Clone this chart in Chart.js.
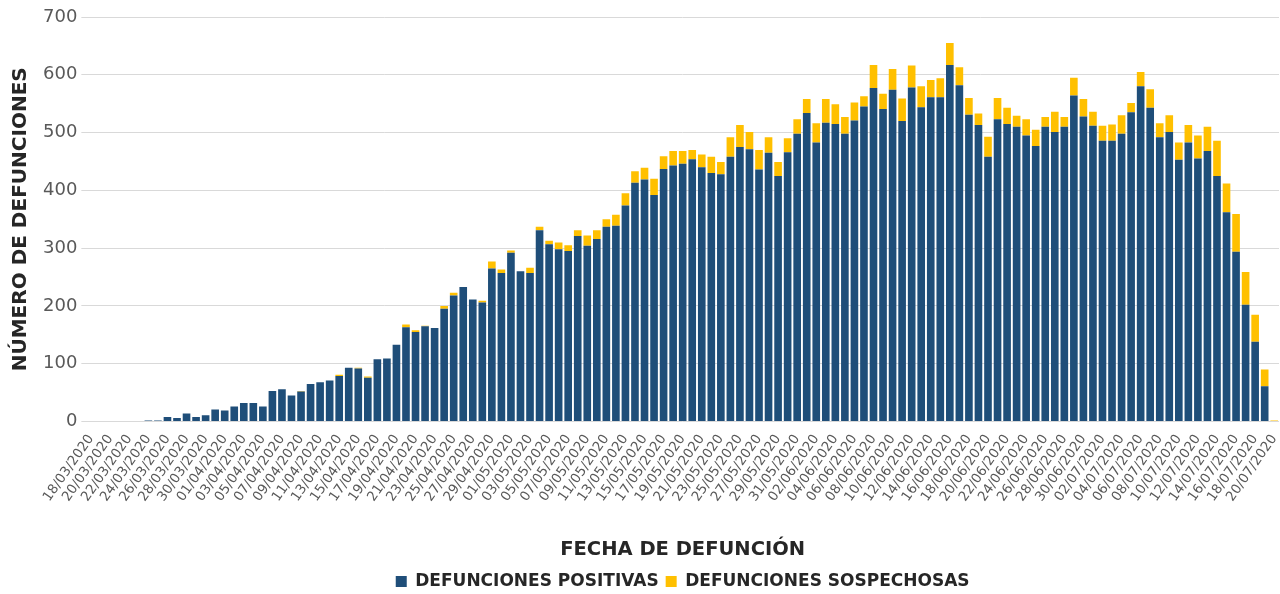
<!DOCTYPE html>
<html>
<head>
<meta charset="utf-8">
<script src="https://cdn.jsdelivr.net/npm/chart.js@4.4.1/dist/chart.umd.min.js"></script>
<style>
html,body{margin:0;padding:0;background:#fff;}
#wrap{width:1280px;height:594px;position:relative;overflow:hidden;}
</style>
</head>
<body>
<div id="wrap"><canvas id="c" width="1280" height="594"></canvas></div>
<script>
const fechas = [
"18/03/2020","19/03/2020","20/03/2020","21/03/2020","22/03/2020","23/03/2020","24/03/2020","25/03/2020","26/03/2020","27/03/2020","28/03/2020","29/03/2020","30/03/2020","31/03/2020",
"01/04/2020","02/04/2020","03/04/2020","04/04/2020","05/04/2020","06/04/2020","07/04/2020","08/04/2020","09/04/2020","10/04/2020","11/04/2020","12/04/2020","13/04/2020","14/04/2020","15/04/2020","16/04/2020","17/04/2020","18/04/2020","19/04/2020","20/04/2020","21/04/2020","22/04/2020","23/04/2020","24/04/2020","25/04/2020","26/04/2020","27/04/2020","28/04/2020","29/04/2020","30/04/2020",
"01/05/2020","02/05/2020","03/05/2020","04/05/2020","05/05/2020","06/05/2020","07/05/2020","08/05/2020","09/05/2020","10/05/2020","11/05/2020","12/05/2020","13/05/2020","14/05/2020","15/05/2020","16/05/2020","17/05/2020","18/05/2020","19/05/2020","20/05/2020","21/05/2020","22/05/2020","23/05/2020","24/05/2020","25/05/2020","26/05/2020","27/05/2020","28/05/2020","29/05/2020","30/05/2020","31/05/2020",
"01/06/2020","02/06/2020","03/06/2020","04/06/2020","05/06/2020","06/06/2020","07/06/2020","08/06/2020","09/06/2020","10/06/2020","11/06/2020","12/06/2020","13/06/2020","14/06/2020","15/06/2020","16/06/2020","17/06/2020","18/06/2020","19/06/2020","20/06/2020","21/06/2020","22/06/2020","23/06/2020","24/06/2020","25/06/2020","26/06/2020","27/06/2020","28/06/2020","29/06/2020","30/06/2020",
"01/07/2020","02/07/2020","03/07/2020","04/07/2020","05/07/2020","06/07/2020","07/07/2020","08/07/2020","09/07/2020","10/07/2020","11/07/2020","12/07/2020","13/07/2020","14/07/2020","15/07/2020","16/07/2020","17/07/2020","18/07/2020","19/07/2020","20/07/2020"
];

const positivas = [
1,0,0,0,0,0,2,2,8,6,14,8,11,21,19,26,32,32,26,53,56,45,52,65,68,71,79,93,92,76,
108,109,133,163,155,165,162,195,218,233,211,206,265,257,292,260,257,331,307,298,
295,321,304,316,337,339,374,413,419,392,437,443,446,454,440,430,428,458,475,471,
436,465,425,466,498,534,483,517,515,498,521,545,577,541,574,520,578,544,561,561,
617,582,531,513,458,523,515,510,495,477,510,501,510,564,528,512,486,486,498,535,
580,543,492,501,453,483,455,468,425,362,294,202,138,61,0
];

const sospechosas = [
0,0,0,0,0,0,0,0,0,0,0,0,0,0,0,0,0,0,0,0,0,0,1,0,0,0,2,0,1,2,
0,0,0,5,3,1,0,5,5,0,0,3,12,6,4,0,9,6,6,12,
10,10,18,15,13,19,21,20,20,28,22,25,22,16,22,28,21,34,38,30,
34,27,24,24,25,24,33,41,34,29,31,18,40,26,36,39,38,36,30,33,
38,31,29,20,35,37,28,19,28,28,17,35,17,31,30,24,26,28,32,16,
25,32,24,29,30,30,40,42,61,50,65,57,47,29,2
];

const yTicks = [0,100,200,300,400,500,600,700];

const AZUL = '#1f4e79';
const AMARILLO = '#ffc000';
const FONT = "'DejaVu Sans', sans-serif";

new Chart(document.getElementById('c'), {
  type: 'bar',
  data: {
    labels: fechas,
    datasets: [
      { label: 'DEFUNCIONES POSITIVAS', data: positivas, backgroundColor: AZUL, barPercentage: 0.8, categoryPercentage: 1.0 },
      { label: 'DEFUNCIONES SOSPECHOSAS', data: sospechosas, backgroundColor: AMARILLO, barPercentage: 0.8, categoryPercentage: 1.0 }
    ]
  },
  options: {
    responsive: false,
    animation: false,
    devicePixelRatio: 1,
    layout: { padding: { top: 17, right: 1, left: 9, bottom: -6 } },
    plugins: {
      tooltip: { enabled: false },
      legend: {
        position: 'bottom',
        fullSize: false,
        labels: {
          boxWidth: 11, boxHeight: 11, padding: 7,
          color: '#262626',
          font: { family: FONT, size: 17, weight: 'bold' }
        }
      }
    },
    scales: {
      x: {
        stacked: true,
        grid: { display: false },
        border: { display: false },
        afterFit: function(scale) { scale.paddingRight = 0; },
        ticks: {
          autoSkip: false, minRotation: 55, maxRotation: 55,
          color: '#595959', padding: 2,
          font: { family: FONT, size: 13.5 },
          callback: function(v, i) { return i % 2 === 0 ? fechas[i] : null; }
        },
        title: {
          display: true, text: 'FECHA DE DEFUNCIÓN', color: '#262626',
          font: { family: FONT, size: 19.5, weight: 'bold' },
          padding: { top: 32, bottom: 4 }
        }
      },
      y: {
        stacked: true,
        min: 0, max: 700,
        afterBuildTicks: function(axis) { axis.ticks = yTicks.map(v => ({ value: v })); },
        grid: { color: '#d9d9d9', lineWidth: 1, tickLength: 5 },
        border: { display: false },
        ticks: {
          color: '#595959', padding: 4,
          font: { family: FONT, size: 18 }
        },
        title: {
          display: true, text: 'NÚMERO DE DEFUNCIONES', color: '#262626',
          font: { family: FONT, size: 20, weight: 'bold' },
          padding: { top: 0, bottom: 6 }
        }
      }
    }
  }
});
</script>
</body>
</html>
